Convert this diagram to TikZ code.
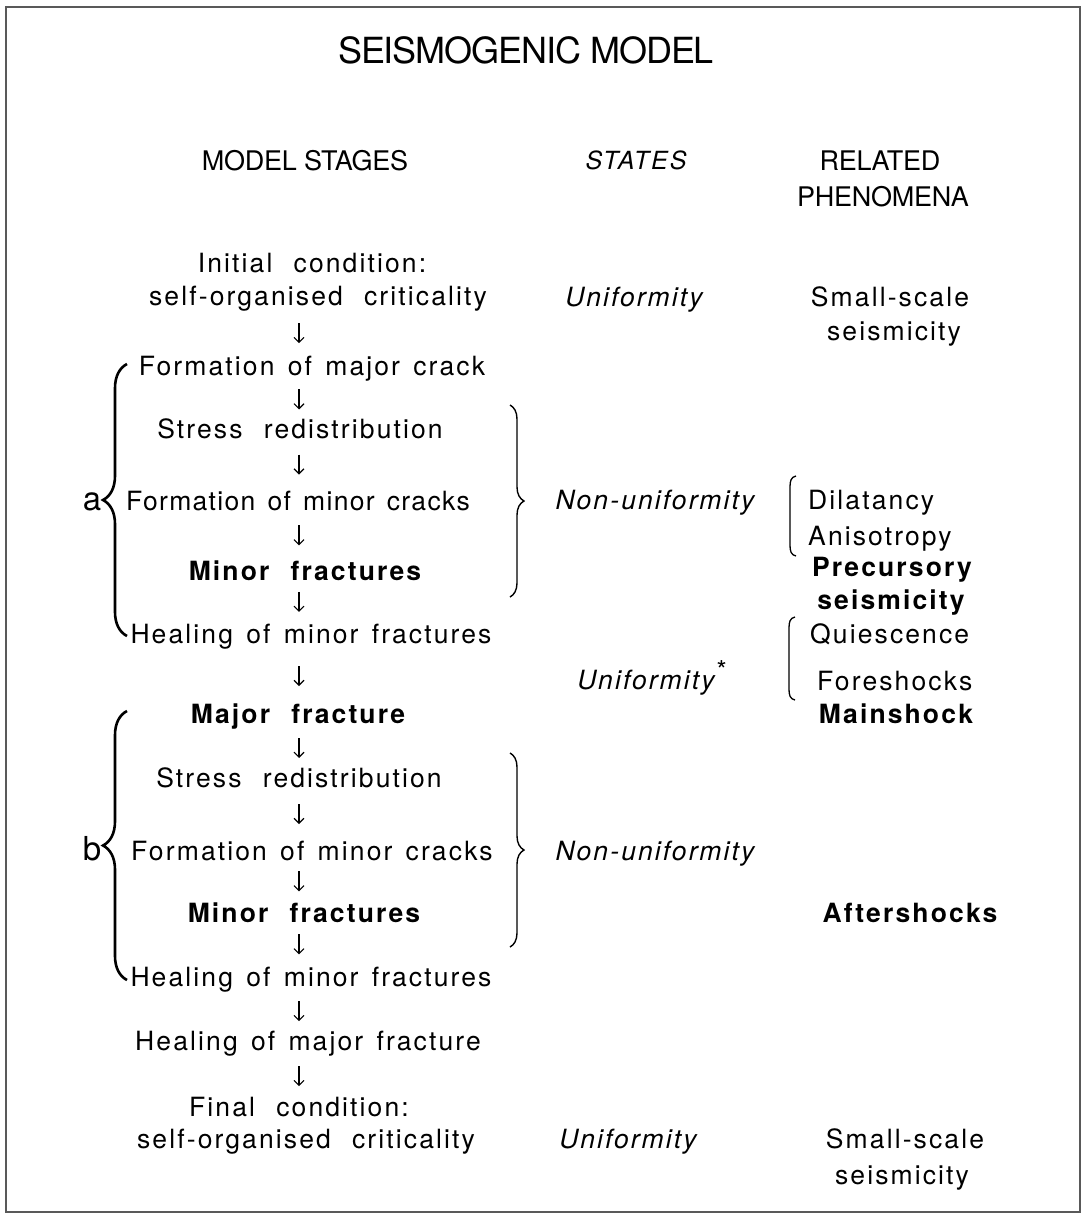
\documentclass[tikz,border=0pt]{standalone}
\usepackage{fontspec}
\setmainfont{TeX Gyre Heros}
\newfontfamily\bodyf[LetterSpace=8,WordSpace=1.4]{TeX Gyre Heros}
\newfontfamily\headf[LetterSpace=-1]{TeX Gyre Heros}
\newfontfamily\titlef[LetterSpace=-3]{TeX Gyre Heros}
\usetikzlibrary{decorations.pathreplacing,arrows.meta}
\begin{document}
\begin{tikzpicture}[x=1pt,y=-1pt,
  txt/.style={inner sep=0pt, anchor=base, font=\bodyf\fontsize{26.5}{30}\selectfont},
  btxt/.style={inner sep=0pt, anchor=base, font=\bodyf\bfseries\fontsize{26.5}{30}\selectfont},
  itxt/.style={inner sep=0pt, anchor=base, font=\bodyf\itshape\fontsize{26.5}{30}\selectfont},
  head/.style={inner sep=0pt, anchor=base, font=\headf\fontsize{27}{30}\selectfont},
  lab/.style={inner sep=0pt, anchor=base, font=\fontsize{33}{36}\selectfont},
  dnarr/.style={line width=1.1pt, -{Straight Barb[length=5pt,width=10pt]}},
  lbrace/.style={decorate, decoration={brace, amplitude=24pt}, line width=2.6pt},
  rbrace/.style={decorate, decoration={brace, amplitude=14pt}, line width=1.4pt},
  brk/.style={line width=1.3pt}
]
\path[use as bounding box] (0,0) rectangle (1086,1216);
\draw[line width=1.4pt, black!65] (6,7) rectangle (1080,1212);

% title and headers
\node[inner sep=0pt, anchor=base, font=\titlef\fontsize{36}{40}\selectfont] (title) at (526,63) {SEISMOGENIC MODEL};
\node[head] (hstages) at (305,170) {MODEL STAGES};
\node[itxt, font=\bodyf\itshape\fontsize{25}{28}\selectfont] (hstates) at (636,169) {STATES};
\node[head] (hrel) at (880,170) {RELATED};
\node[head] (hphen) at (883,206) {PHENOMENA};

% model stages column
\coordinate (ax) at (299,0);
\node[txt] (init1) at (312,272) {Initial\hspace{0.3em} condition:};
\node[txt] (init2) at (318,305) {self-organised\hspace{0.3em} criticality};
\node[txt] (fmaj) at (312,375) {Formation of major crack};
\node[txt] (sred1) at (300,438) {Stress\hspace{0.3em} redistribution};
\node[txt] (fmin1) at (298,510) {\addfontfeature{LetterSpace=5}Formation of minor cracks};
\node[btxt] (minf1) at (305,580) {Minor\hspace{0.3em} fractures};
\node[txt] (heal1) at (311,643) {Healing of minor fractures};
\node[btxt] (majf) at (298,723) {Major\hspace{0.3em} fracture};
\node[txt] (sred2) at (299,787) {Stress\hspace{0.3em} redistribution};
\node[txt] (fmin2) at (312,860) {Formation of minor cracks};
\node[btxt] (minf2) at (304,922) {Minor\hspace{0.3em} fractures};
\node[txt] (heal2) at (311,986) {Healing of minor fractures};
\node[txt] (healmaj) at (308,1050) {Healing of major fracture};
\node[txt] (fin1) at (299,1116) {Final\hspace{0.3em} condition:};
\node[txt] (fin2) at (306,1148) {self-organised\hspace{0.3em} criticality};

% arrows between stages (short arrow centred in each gap)
\foreach \a/\b in {init2/fmaj, fmaj/sred1, sred1/fmin1, fmin1/minf1, minf1/heal1,
                   heal1/majf, majf/sred2, sred2/fmin2, fmin2/minf2, minf2/heal2,
                   heal2/healmaj, healmaj/fin1} {
  \path (\a.south -| ax) -- coordinate[pos=0.5] (m-\a) (\b.north -| ax);
  \draw[dnarr] ([yshift=10pt]m-\a) -- ([yshift=-10pt]m-\a);
}

% braces a and b
\draw[lbrace] (127,636) -- (127,364);
\draw[lbrace] (127,980) -- (127,711);
\node[lab] (la) at (92,510) {a};
\node[lab] (lb) at (92,860) {b};

% non-uniformity braces
\draw[rbrace] (510,405) -- (510,597);
\draw[rbrace] (510,753) -- (510,947);

% states column
\node[itxt] (st1) at (634,306) {Uniformity};
\node[itxt] (st2) at (655,509) {Non-uniformity};
\node[itxt] (st3) at (652,689) {Uniformity\hspace{2pt}\raisebox{10pt}{\normalfont\fontsize{26}{26}\selectfont *}};
\node[itxt] (st4) at (655,860) {Non-uniformity};
\node[itxt] (st5) at (628,1148) {Uniformity};

% related phenomena column
\node[txt] (ss1) at (890,306) {Small-scale};
\node[txt] (sm1) at (894,340) {seismicity};
\node[txt, anchor=base west] (dil) at (808,509) {Dilatancy};
\node[txt, anchor=base west] (ani) at (808,545) {Anisotropy};
\node[btxt] (prec) at (892,576) {Precursory};
\node[btxt] (pseis) at (891,609) {seismicity};
\node[txt, anchor=base west] (qui) at (810,643) {Quiescence};
\node[txt, anchor=base west] (fore) at (817,690) {Foreshocks};
\node[btxt] (main) at (896,723) {Mainshock};
\node[btxt] (after) at (910,922) {Aftershocks};
\node[txt] (ss2) at (905,1148) {Small-scale};
\node[txt] (sm2) at (902,1184) {seismicity};

% small brackets
\draw[brk] (796,476) .. controls (791,477) and (790,481) .. (790,487) -- (790,545) .. controls (790,551) and (791,555) .. (796,556);
\draw[brk] (795,617) .. controls (790,618) and (789,622) .. (789,628) -- (789,689) .. controls (789,695) and (790,699) .. (795,700);
\end{tikzpicture}
\end{document}
